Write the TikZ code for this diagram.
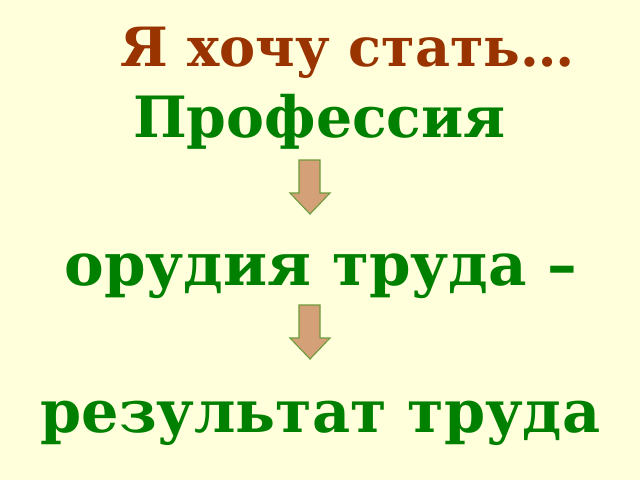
\documentclass[tikz,border=0pt]{standalone}
\usepackage{fontspec}
\setmainfont{DejaVu Serif}
\usetikzlibrary{positioning}
\definecolor{paper}{RGB}{255,255,220}
\definecolor{leaf}{RGB}{0,128,0}
\definecolor{rust}{RGB}{153,51,0}
\definecolor{tan}{RGB}{212,160,120}
\definecolor{olive}{RGB}{110,155,60}

\begin{document}
\begin{tikzpicture}
  [titleN/.style={anchor=base,inner sep=0pt,font=\bfseries\fontsize{38.5}{44}\selectfont,text=rust},
   wordN/.style={anchor=base,inner sep=0pt,font=\bfseries\fontsize{#1}{48}\selectfont,text=leaf},
   blockarrow/.style={fill=tan,draw=olive,line width=0.8pt,line join=miter}]

  \fill[paper] (0,0) rectangle (16,12);
  \useasboundingbox (0,0) rectangle (16,12);

  \node[titleN] (want) at (8.69,10.325) {Я хочу стать…};
  \node[wordN=40.5] (job) at (7.99,8.575) {Профессия};
  \node[wordN=42.3] (tools) at (8.025,4.875) {орудия труда –};
  \node[wordN=41.9] (result) at (8.01,1.2) {результат труда};

  \foreach \t in {8.0,4.375}
    \draw[blockarrow] (7.475,\t) -- (8.0,\t) -- (8.0,\t-0.825) -- (8.25,\t-0.825)
      -- (7.75,\t-1.35) -- (7.25,\t-0.825) -- (7.475,\t-0.825) -- cycle;

\end{tikzpicture}
\end{document}
